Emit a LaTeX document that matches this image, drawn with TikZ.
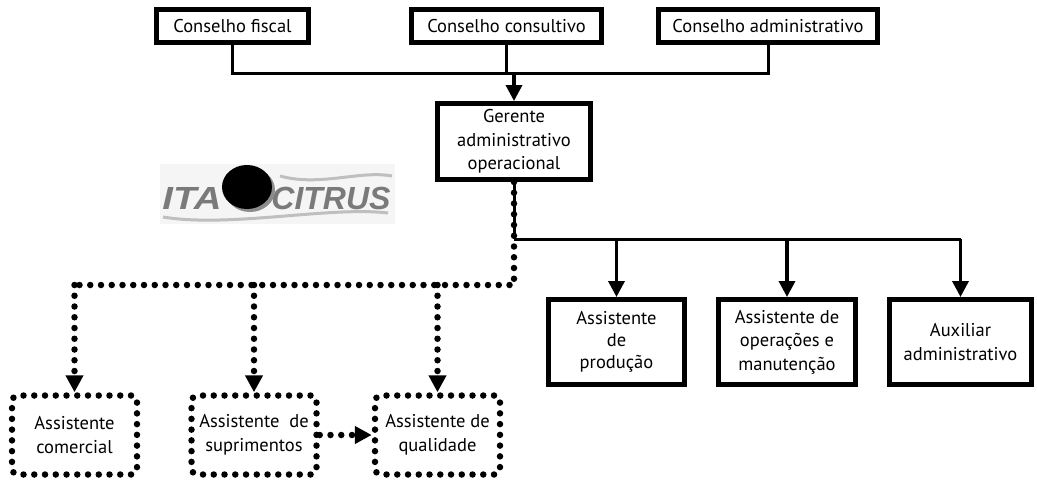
\documentclass[tikz,border=0pt]{standalone}
\usepackage{fontspec}
\setmainfont{PT Sans}
\newfontfamily\logofont{Liberation Sans}
\usetikzlibrary{arrows.meta,shapes.geometric}
\tikzset{
  solidbox/.style = {draw, line width = 5pt, align = center, font = \fontsize{18.5}{23.5}\selectfont},
  dotbox/.style = {draw, line width = 6.5pt, line cap = round, dash pattern = on 0pt off 10.75pt, rounded corners = 6pt, align = center, font = \fontsize{18.5}{24}\selectfont, minimum width = 125pt, minimum height = 79pt},
  logotext/.style = {font = \logofont\fontsize{32}{32}\selectfont\bfseries\itshape, text = black!52, inner sep = 0pt},
  solidline/.style = {line width = 3pt},
  solidarrow/.style = {line width = 3.5pt, -{Triangle[length = 16pt, width = 16pt]}},
  dotline/.style = {line width = 6.5pt, line cap = round, dash pattern = on 0pt off 10.75pt},
  dotarrow/.style = {dotline, -{Triangle[length = 17pt, width = 17pt]}}
}
\begin{document}
\begin{tikzpicture}[x = 1pt, y = -1pt]
    \useasboundingbox (0,0) rectangle (1037,483);
    % Top row
    \node[solidbox, minimum height = 33pt, minimum width = 152pt] (fiscal) at (232.5,26) {Conselho fiscal};
    \node[solidbox, minimum height = 33pt, minimum width = 190pt] (consultivo) at (506.5,26) {Conselho consultivo};
    \node[solidbox, minimum height = 33pt, minimum width = 219pt] (admin) at (768,26) {Conselho administrativo};
    \node[solidbox, minimum width = 153pt, minimum height = 76pt] (gerente) at (514,141.5) {Gerente\\administrativo\\operacional};
    % Logo
    \node[fill = black!4, minimum width = 235pt, minimum height = 60pt, inner sep = 0pt] (logo) at (277.5,194) {};
    \draw[black!25, line width = 3pt] (163,217) .. controls (230,228) and (330,206) .. (388,213);
    \draw[black!25, line width = 3pt] (280,176) .. controls (320,187) and (360,170) .. (392,176);
    \node[logotext, xscale = 1.2] (ita) at (192,198.5) {ITA};
    \node[logotext] (citrus) at (331,198.5) {CITRUS};
    \node[ellipse, fill = black!45, minimum width = 50pt, minimum height = 44pt, inner sep = 0pt] (shade) at (250,190) {};
    \node[ellipse, fill = black, minimum width = 50pt, minimum height = 44pt, inner sep = 0pt] (sun) at (247,187) {};
    % Bottom right row
    \node[solidbox, font = \fontsize{18.5}{22}\selectfont, minimum width = 136pt, minimum height = 85pt] (producao) at (616.5,342) {Assistente\\de\\produção};
    \node[solidbox, minimum width = 137pt, minimum height = 85pt] (operacoes) at (787,342) {Assistente de\\operações e\\manutenção};
    \node[solidbox, minimum width = 142pt, minimum height = 85pt] (auxiliar) at (960.5,342) {Auxiliar\\administrativo};
    % Bottom left row
    \node[dotbox] (comercial) at (74.5,435) {Assistente\\comercial};
    \node[dotbox] (suprimentos) at (254,435) {Assistente~ de\\suprimentos};
    \node[dotbox] (qualidade) at (437.5,435) {Assistente de\\qualidade};
    % Junctions
    \coordinate (topbar) at (514,73);
    \coordinate (solidbar) at (514,239);
    \coordinate (dotbar) at (514,285);
    % Top connectors
    \draw[solidline] (fiscal.south) |- (topbar);
    \draw[solidline] (admin.south) |- (topbar);
    \draw[solidline] (consultivo.south) -- (consultivo.south |- topbar);
    \draw[solidarrow] (topbar) -- (gerente.north);
    % Solid connectors
    \draw[solidline] (gerente.south) -- (solidbar);
    \draw[solidline] (solidbar) -- (auxiliar.north |- solidbar);
    \draw[solidarrow] (producao.north |- solidbar) -- (producao.north);
    \draw[solidarrow] (operacoes.north |- solidbar) -- (operacoes.north);
    \draw[solidarrow] (auxiliar.north |- solidbar) -- (auxiliar.north);
    % Dotted connectors
    \draw[dotline] (gerente.south) -- (dotbar) -- (comercial.north |- dotbar);
    \draw[dotarrow] (comercial.north |- dotbar) -- (comercial.north);
    \draw[dotarrow] (suprimentos.north |- dotbar) -- (suprimentos.north);
    \draw[dotarrow] (qualidade.north |- dotbar) -- (qualidade.north);
    \draw[dotarrow] (suprimentos.east) -- (qualidade.west);
\end{tikzpicture}
\end{document}
